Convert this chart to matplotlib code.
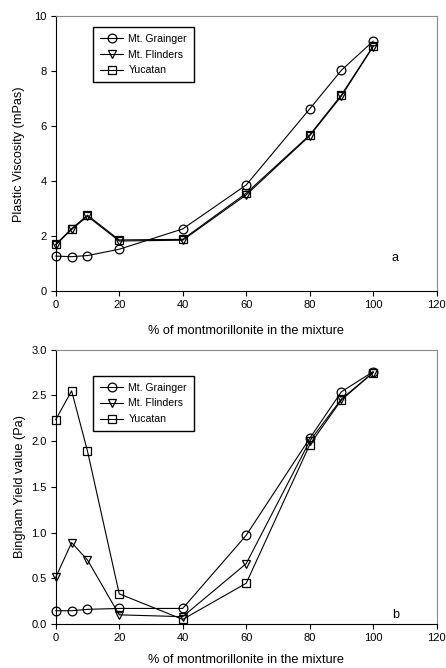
import matplotlib
matplotlib.use('Agg')
import matplotlib.pyplot as plt

plt.rcParams['font.family'] = ['Liberation Sans', 'DejaVu Sans']
plt.rcParams['font.size'] = 8

# % montmorillonite in the mixture
pct = [0, 5, 10, 20, 40, 60, 80, 90, 100]

# panel a: plastic viscosity (mPas)
visc_grainger = [1.27, 1.25, 1.29, 1.52, 2.26, 3.86, 6.63, 8.04, 9.10]
visc_flinders = [1.68, 2.24, 2.72, 1.82, 1.85, 3.50, 5.65, 7.10, 8.90]
visc_yucatan = [1.70, 2.27, 2.76, 1.86, 1.88, 3.56, 5.68, 7.14, 8.92]

# panel b: Bingham yield value (Pa)
yield_grainger = [0.145, 0.145, 0.16, 0.17, 0.17, 0.97, 2.03, 2.54, 2.76]
yield_flinders = [0.51, 0.89, 0.70, 0.10, 0.08, 0.66, 2.00, 2.46, 2.75]
yield_yucatan = [2.235, 2.55, 1.89, 0.33, 0.05, 0.445, 1.96, 2.45, 2.75]

names = ['Mt. Grainger', 'Mt. Flinders', 'Yucatan']
markers = ['o', 'v', 's']

fig = plt.figure(figsize=(4.46, 6.68), dpi=100)
ax1 = fig.add_axes([0.125, 0.5644, 0.854, 0.411])
ax2 = fig.add_axes([0.125, 0.0659, 0.854, 0.4106])


def style(ax, pad):
    ax.set_xlim(0, 120)
    ax.set_xticks([0, 20, 40, 60, 80, 100, 120])
    for s in ['top', 'right']:
        ax.spines[s].set_color('#8a8a8a')
        ax.spines[s].set_linewidth(0.8)
    for s in ['left', 'bottom']:
        ax.spines[s].set_linewidth(0.8)
    ax.tick_params(direction='out', length=3.5, width=0.8, labelsize=8, pad=3)
    ax.set_xlabel('% of montmorillonite in the mixture', fontsize=9.2, labelpad=pad)


def legend(ax, top):
    ax.legend(loc='upper left', bbox_to_anchor=(0.098, top), borderaxespad=0,
              frameon=True, fancybox=False, edgecolor='black', framealpha=1,
              fontsize=7.6, handlelength=2.2, borderpad=0.65, labelspacing=0.55,
              handletextpad=0.5)


for ax, series, pad in [(ax1, [visc_grainger, visc_flinders, visc_yucatan], 10.5),
                        (ax2, [yield_grainger, yield_flinders, yield_yucatan], 8)]:
    for vals, name, m in zip(series, names, markers):
        ax.plot(pct, vals, marker=m, color='black', markerfacecolor='none',
                markeredgewidth=0.9, markersize=6.3, linewidth=0.8, label=name,
                clip_on=False)
    style(ax, pad)

ax1.set_ylim(0, 10)
ax1.set_yticks([0, 2, 4, 6, 8, 10])
ax1.set_ylabel('Plastic Viscosity (mPas)', fontsize=9.2, labelpad=7)
ax1.text(0.892, 0.12, 'a', transform=ax1.transAxes, fontsize=9,
         ha='center', va='center')
legend(ax1, 0.962)

ax2.set_ylim(0, 3.0)
ax2.set_yticks([0, 0.5, 1.0, 1.5, 2.0, 2.5, 3.0])
ax2.set_yticklabels(['0.0', '0.5', '1.0', '1.5', '2.0', '2.5', '3.0'])
ax2.set_ylabel('Bingham Yield value (Pa)', fontsize=9.2, labelpad=4)
ax2.text(0.892, 0.033, 'b', transform=ax2.transAxes, fontsize=9,
         ha='center', va='center')
legend(ax2, 0.905)

fig.savefig('out.png', dpi=100)
